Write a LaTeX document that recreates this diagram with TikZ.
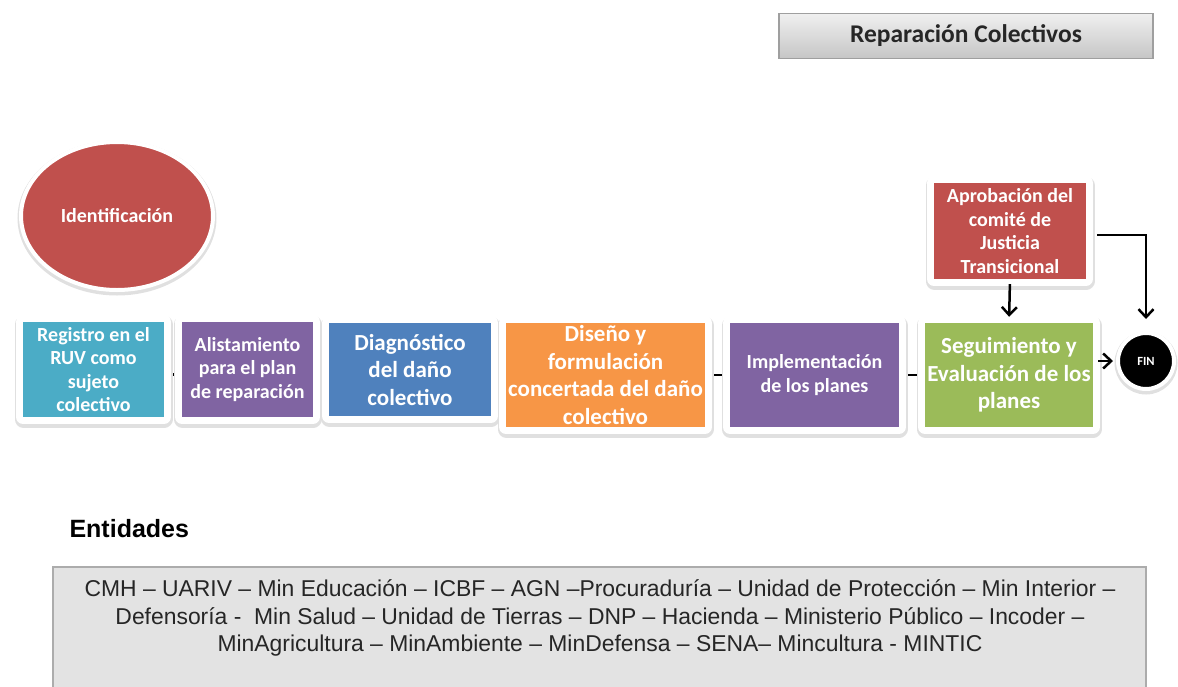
\documentclass[tikz,border=0pt]{standalone}
\usepackage{fontspec}
\newfontfamily\carlito{Carlito}
\newfontfamily\arialfont{Liberation Sans}
\usetikzlibrary{shapes.geometric,arrows.meta,backgrounds}
\definecolor{cteal}{HTML}{4BACC6}
\definecolor{cpurple}{HTML}{8064A2}
\definecolor{cblue}{HTML}{4F81BD}
\definecolor{corange}{HTML}{F79646}
\definecolor{cgreen}{HTML}{9BBB59}
\definecolor{cred}{HTML}{C0504D}

\begin{document}
\begin{tikzpicture}[x=1pt,y=-1pt,
  stepbox/.style={rectangle,inner sep=0pt,align=center,text=white,
    preaction={draw=black!12,line width=17pt,line join=round,transform canvas={yshift=-2pt}},
    preaction={draw=white,line width=14pt,line join=round}},
  small/.style={font=\carlito\bfseries\fontsize{20}{23.5}\selectfont},
  big/.style={font=\carlito\bfseries\fontsize{23}{27.5}\selectfont},
  link/.style={line width=2.5pt},
  flecha/.style={line width=2.5pt,-{Straight Barb[length=8pt,width=15pt,line width=2.5pt]}}]
\useasboundingbox (0,0) rectangle (1178,686);

\node[rectangle,minimum width=374pt,minimum height=45pt,top color=gray!12,bottom color=gray!45,
  draw=gray!75,line width=1.2pt,font=\carlito\bfseries\fontsize{25.5}{28}\selectfont,text=black!85]
  (titulo) at (966,36) {Reparación Colectivos};

\node[ellipse,minimum width=192pt,minimum height=148pt,fill=cred,draw=white,line width=4pt,
  text=white,font=\carlito\bfseries\fontsize{20}{24}\selectfont,
  preaction={draw=black!12,line width=7pt,transform canvas={yshift=-2pt}}]
  (ident) at (117,216) {Identificación};

\node[stepbox,small,fill=cteal,minimum width=141pt,minimum height=95pt] (b1) at (93.5,369.5)
  {Registro en el\\RUV como\\sujeto\\colectivo};
\node[stepbox,small,fill=cpurple,minimum width=131pt,minimum height=95pt] (b2) at (247.5,369.5)
  {Alistamiento\\para el plan\\de reparación};
\node[stepbox,big,fill=cblue,minimum width=162pt,minimum height=93pt] (b3) at (410,369.5)
  {Diagnóstico\\del daño\\colectivo};
\node[stepbox,big,fill=corange,minimum width=199pt,minimum height=104pt] (b4) at (605.5,375)
  {Diseño y\\formulación\\concertada del daño\\colectivo};
\node[stepbox,small,fill=cpurple,minimum width=169pt,minimum height=104pt] (b5) at (814.5,375)
  {Implementación\\de los planes};
\node[stepbox,big,fill=cgreen,minimum width=168pt,minimum height=104pt] (b6) at (1009,375)
  {Seguimiento y\\Evaluación de los\\planes};
\node[stepbox,small,fill=cred,minimum width=152pt,minimum height=96pt] (ap) at (1010,231)
  {Aprobación del\\comité de\\Justicia\\Transicional};

\node[circle,minimum size=56pt,inner sep=0pt,fill=black,draw=white,line width=4pt,text=white,
  font=\carlito\bfseries\fontsize{12.5}{14}\selectfont,
  preaction={draw=black!12,line width=7pt,transform canvas={yshift=-2pt}}]
  (fin) at (1146,361) {FIN};

\begin{scope}[on background layer]
\draw[link] ([yshift=-5pt]b1.east) -- ([yshift=-5pt]b2.west);
\draw[link] ([yshift=-5pt]b2.east) -- ([yshift=-5pt]b3.west);
\draw[link] ([yshift=-5pt]b3.east) -- (b4.west);
\draw[link] (b4.east) -- (b5.west);
\draw[link] (b5.east) -- (b6.west);
\end{scope}

\draw[flecha,shorten <=5pt,shorten >=6pt] (ap.south) -- (b6.north);
\draw[flecha,shorten <=11pt,shorten >=12pt] ([yshift=-4pt]ap.east) -| (fin.north);
\draw[flecha,shorten <=5pt,shorten >=3pt] (b6.east |- fin.west) -- (fin.west);

\node[anchor=west,font=\arialfont\bfseries\fontsize{25}{28}\selectfont] (entidades) at (66,529) {Entidades};

\draw[fill=gray!22,draw=gray!65,line width=1.5pt] (53,567) rectangle (1146,692);
\node[align=center,font=\arialfont\fontsize{22.9}{27.5}\selectfont,text=black!85] (lista) at (600,618)
  {CMH – UARIV – Min Educación – ICBF – AGN –Procuraduría – Unidad de Protección – Min Interior –\\
   Defensoría -\ \ Min Salud – Unidad de Tierras – DNP – Hacienda – Ministerio Público – Incoder –\\
   MinAgricultura – MinAmbiente – MinDefensa – SENA– Mincultura - MINTIC};
\end{tikzpicture}
\end{document}
